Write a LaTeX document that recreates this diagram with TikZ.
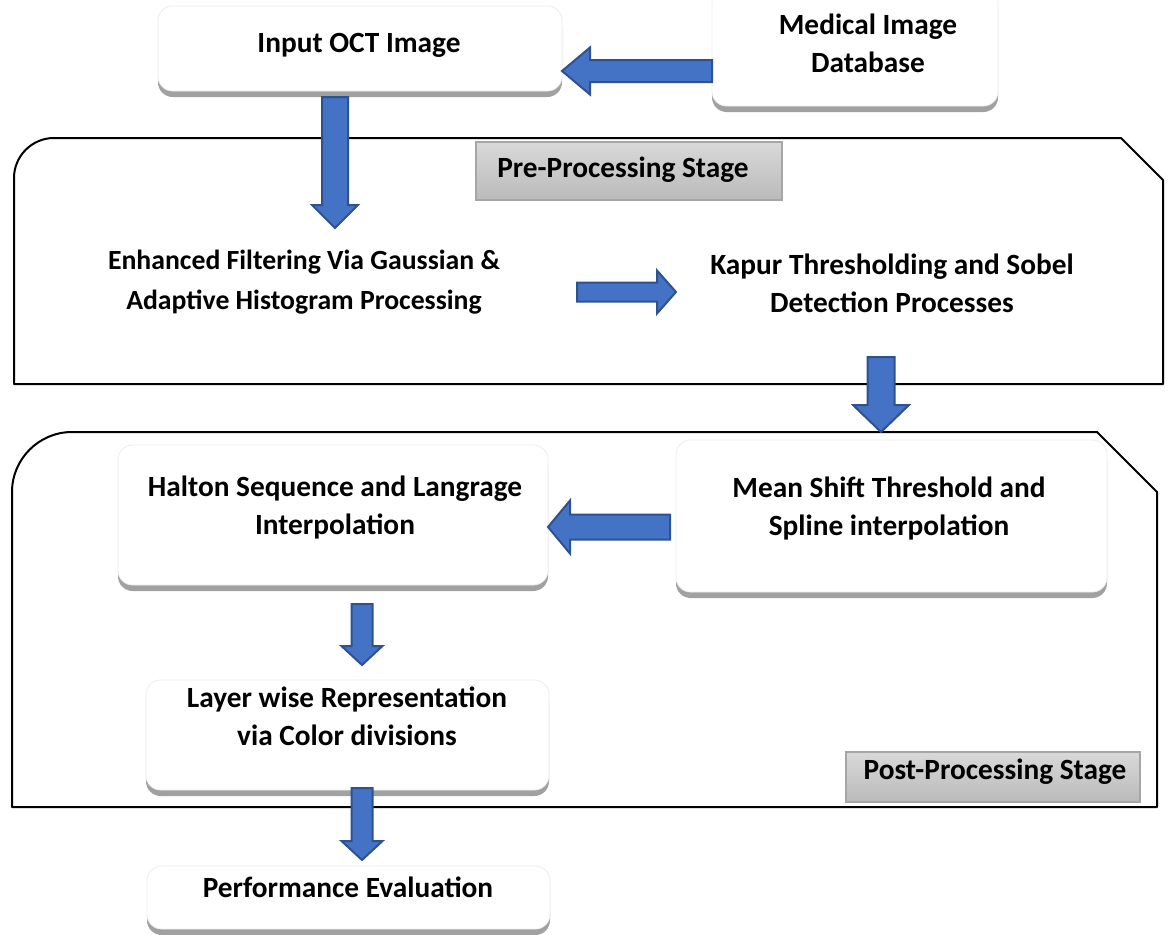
\documentclass[tikz,border=0pt]{standalone}
\usepackage{fontspec}
\setmainfont{Carlito}
\usetikzlibrary{calc,fit,shadows}
\definecolor{arrowblue}{HTML}{4472C4}
\definecolor{arrowedge}{HTML}{2F528F}
\tikzset{
  card/.style={rounded corners=11pt, fill=white, draw=black!7, line width=0.6pt, inner sep=0pt,
    drop shadow={shadow xshift=0pt, shadow yshift=-4.5pt, fill=black!37, opacity=1}},
  txt/.style={font=\fontsize{22}{28.5}\selectfont\bfseries, align=center, inner sep=0pt},
  txtmid/.style={font=\fontsize{20.8}{30}\selectfont\bfseries, align=center, inner sep=0pt},
  stagelabel/.style={top color=black!15, bottom color=black!27, draw=black!35, line width=0.8pt, inner sep=0pt},
  frame/.style={draw=black, line width=1.5pt, line join=round},
  blk/.style={fill=arrowblue, draw=arrowedge, line width=1.5pt, line join=miter}
}
% horizontal block arrow: from #1 to #2, shaft half #3, head half #4, signed head length #5 (px)
\newcommand\blkh[5]{\draw[blk] let \p1=(#1), \p2=(#2) in
  (\x1,\y1+#3*0.75pt) -- (\x2+#5*0.75pt,\y1+#3*0.75pt) -- (\x2+#5*0.75pt,\y1+#4*0.75pt) -- (\x2,\y1)
  -- (\x2+#5*0.75pt,\y1-#4*0.75pt) -- (\x2+#5*0.75pt,\y1-#3*0.75pt) -- (\x1,\y1-#3*0.75pt) -- cycle;}
% vertical block arrow (downwards)
\newcommand\blkv[5]{\draw[blk] let \p1=(#1), \p2=(#2) in
  (\x1-#3*0.75pt,\y1) -- (\x1-#3*0.75pt,\y2+#5*0.75pt) -- (\x1-#4*0.75pt,\y2+#5*0.75pt) -- (\x1,\y2)
  -- (\x1+#4*0.75pt,\y2+#5*0.75pt) -- (\x1+#3*0.75pt,\y2+#5*0.75pt) -- (\x1+#3*0.75pt,\y1) -- cycle;}
\begin{document}
\begin{tikzpicture}[x=0.75pt,y=-0.75pt]
\useasboundingbox (0,0) rectangle (1168,935);
\fill[white] (0,0) rectangle (1168,935);

% stage frames
\draw[frame] (14,384) -- (14,178) .. controls (14,156) and (32,138) .. (54,138)
  -- (1121,138) -- (1163,180) -- (1163,384) -- cycle;
\draw[frame] (12,807) -- (12,492) .. controls (12,459) and (39,432) .. (72,432)
  -- (1097,432) -- (1157,492) -- (1157,807) -- cycle;

% stage labels
\node[stagelabel, fit={(476,142) (782,200)}] (prelab) {};
\node[txt] (pretxt) at (623,170) {Pre-Processing Stage};
\node[stagelabel, fit={(846,752) (1140,802)}] (postlab) {};
\node[txt] (posttxt) at (995,772) {Post-Processing Stage};

% cards
\node[card, fit={(158,6) (562,91)}] (inbox) {};
\node[card, fit={(712,-12) (998,106)}] (medbox) {};
\node[card, fit={(676,440) (1107,592)}] (meanbox) {};
\node[card, fit={(118,445) (548,585)}] (haltbox) {};
\node[card, fit={(146,680) (549,790)}] (layerbox) {};
\node[card, fit={(147,866) (550,929)}] (perfbox) {};

% texts
\node[txt] (input) at (359,45) {Input OCT Image};
\node[txt] (medical) at (868,43) {Medical Image\\Database};
\node[txtmid] (enhanced) at (304,282) {Enhanced Filtering Via Gaussian \&\\Adaptive Histogram Processing};
\node[txt] (kapur) at (892,283) {Kapur Thresholding and Sobel\\Detection Processes};
\node[txt] (mean) at (889,509) {Mean Shift Threshold and\\Spline interpolation};
\node[txt] (halton) at (335,508) {Halton Sequence and Langrage\\Interpolation};
\node[txt] (layer) at (347,716) {Layer wise Representation\\via Color divisions};
\node[txt] (perf) at (348,887) {Performance Evaluation};

% arrow end points
\coordinate (a1s) at (712,71);  \coordinate (a1t) at (562,71);
\coordinate (a2s) at (335,97);  \coordinate (a2t) at (335,228);
\coordinate (a3s) at (577,292); \coordinate (a3t) at (676,292);
\coordinate (a4s) at (881,357); \coordinate (a4t) at (881,432);
\coordinate (a5s) at (670,527); \coordinate (a5t) at (548,527);
\coordinate (a6s) at (362,604); \coordinate (a6t) at (362,665);
\coordinate (a7s) at (362,788); \coordinate (a7t) at (362,860);

\blkh{a1s}{a1t}{11}{23.5}{28}
\blkv{a2s}{a2t}{13}{23}{23}
\blkh{a3s}{a3t}{9.5}{21.5}{-19}
\blkv{a4s}{a4t}{13.5}{28}{27}
\blkh{a5s}{a5t}{12.5}{26.5}{22}
\blkv{a6s}{a6t}{10.5}{20.5}{19}
\blkv{a7s}{a7t}{10.5}{20.5}{19}
\end{tikzpicture}
\end{document}
